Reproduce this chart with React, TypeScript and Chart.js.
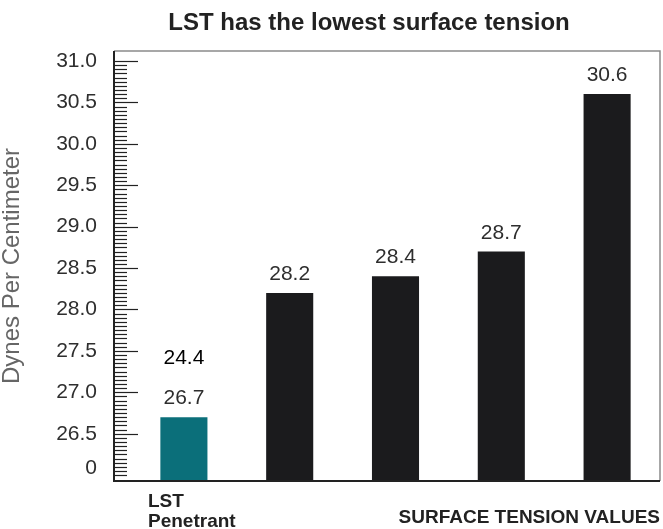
import { useEffect, useRef } from "react";
import { Chart, registerables } from "chart.js";

Chart.register(...registerables);

const chartTitle = "LST has the lowest surface tension";
const yAxisTitle = "Dynes Per Centimeter";
const xAxisTitle = "SURFACE TENSION VALUES";
const categories: string[][] = [["LST", "Penetrant"], [""], [""], [""], [""]];
const values = [26.7, 28.2, 28.4, 28.7, 30.6];
const extraLabels = ["24.4", "", "", "", ""];
const barColors = ["#0b6f7a", "#1b1b1d", "#1b1b1d", "#1b1b1d", "#1b1b1d"];
const yTickValues = [26.08, 26.5, 27.0, 27.5, 28.0, 28.5, 29.0, 29.5, 30.0, 30.5, 31.0];
const yTickLabels = ["0", "26.5", "27.0", "27.5", "28.0", "28.5", "29.0", "29.5", "30.0", "30.5", "31.0"];
const yMin = 25.93;
const yMax = 31.12;

const FONT = '"Liberation Sans", Arial, Helvetica, sans-serif';

const decorPlugin = {
  id: "decor",
  beforeDatasetsDraw(chart: any) {
    const { ctx, chartArea, scales } = chart;
    const y = scales.y;
    const frameLeft = chartArea.left - 17;
    ctx.save();
    ctx.strokeStyle = "#222";
    ctx.lineWidth = 1.2;
    for (let k = 520; k <= 620; k++) {
      const v = k / 20;
      const py = Math.round(y.getPixelForValue(v)) + 0.5;
      const len = k % 10 === 0 && k >= 530 ? 24 : 13;
      ctx.beginPath();
      ctx.moveTo(frameLeft, py);
      ctx.lineTo(frameLeft + len, py);
      ctx.stroke();
    }
    ctx.restore();
  },
  afterDatasetsDraw(chart: any) {
    const { ctx, chartArea } = chart;
    const frameLeft = chartArea.left - 17;
    ctx.save();
    // frame: top & right (gray)
    ctx.strokeStyle = "#8a8a8a";
    ctx.lineWidth = 1.5;
    ctx.beginPath();
    ctx.moveTo(frameLeft, chartArea.top);
    ctx.lineTo(chartArea.right, chartArea.top);
    ctx.lineTo(chartArea.right, chartArea.bottom);
    ctx.stroke();
    // left & bottom (dark)
    ctx.strokeStyle = "#222";
    ctx.lineWidth = 2;
    ctx.beginPath();
    ctx.moveTo(frameLeft, chartArea.top);
    ctx.lineTo(frameLeft, chartArea.bottom);
    ctx.lineTo(chartArea.right, chartArea.bottom);
    ctx.stroke();

    const meta = chart.getDatasetMeta(0);
    ctx.textAlign = "center";
    ctx.textBaseline = "alphabetic";
    meta.data.forEach((bar: any, i: number) => {
      ctx.font = `21px ${FONT}`;
      ctx.fillStyle = "#2e2e2e";
      ctx.fillText(values[i].toFixed(1), bar.x, bar.y - 13);
      if (extraLabels[i]) {
        ctx.fillStyle = "#000";
        ctx.fillText(extraLabels[i], bar.x, bar.y - 53);
      }
    });

    // category labels
    ctx.textAlign = "left";
    ctx.font = `bold 19px ${FONT}`;
    ctx.fillStyle = "#222";
    meta.data.forEach((_bar: any, i: number) => {
      const lines = categories[i];
      const lx = chartArea.left + 17 + i * ((chartArea.right - chartArea.left) / categories.length);
      lines.forEach((line, j) => {
        if (line) ctx.fillText(line, lx, chartArea.bottom + 26 + j * 20);
      });
    });

    // chart title
    ctx.textAlign = "center";
    ctx.font = `bold 24px ${FONT}`;
    ctx.fillStyle = "#222";
    ctx.fillText(chartTitle, 369, 30);
    ctx.restore();
  },
};

export default function App() {
  const canvasRef = useRef<HTMLCanvasElement | null>(null);

  useEffect(() => {
    if (!canvasRef.current) return;
    const chart = new Chart(canvasRef.current, {
      type: "bar",
      data: {
        labels: categories,
        datasets: [
          {
            data: values,
            backgroundColor: barColors,
            borderWidth: 0,
            categoryPercentage: 0.445,
            barPercentage: 1,
          },
        ],
      },
      options: {
        animation: false,
        responsive: false,
        devicePixelRatio: 1,
        layout: { padding: { top: 51, right: 3, bottom: 0, left: 0 } },
        plugins: {
          legend: { display: false },
          title: { display: false },
          tooltip: { enabled: false },
        },
        scales: {
          x: {
            type: "category",
            grid: { display: false, drawTicks: false },
            border: { display: false },
            ticks: { display: false },
            title: {
              display: true,
              text: xAxisTitle,
              align: "end",
              color: "#222",
              font: { family: FONT, size: 19, weight: "bold", lineHeight: 1 },
              padding: { top: 0, bottom: 1.5 },
            },
            afterFit: (s: any) => {
              s.height = 48;
            },
          },
          y: {
            type: "linear",
            min: yMin,
            max: yMax,
            beginAtZero: false,
            grid: { display: false, drawTicks: false },
            border: { display: false },
            afterBuildTicks: (s: any) => {
              s.ticks = yTickValues.map((v) => ({ value: v }));
            },
            ticks: {
              padding: 34,
              color: "#2e2e2e",
              font: { family: FONT, size: 21 },
              callback: (_v: any, i: number) => yTickLabels[i],
            },
            title: {
              display: true,
              text: yAxisTitle,
              color: "#666",
              font: { family: FONT, size: 24, lineHeight: 1 },
              padding: { top: 0, bottom: 0 },
            },
            afterFit: (s: any) => {
              s.width = 131;
            },
          },
        },
      },
      plugins: [decorPlugin],
    });
    return () => chart.destroy();
  }, []);

  return (
    <div style={{ position: "fixed", left: 0, top: 0, width: 663, height: 529, background: "#fff" }}>
      <canvas ref={canvasRef} width={663} height={529} />
    </div>
  );
}
